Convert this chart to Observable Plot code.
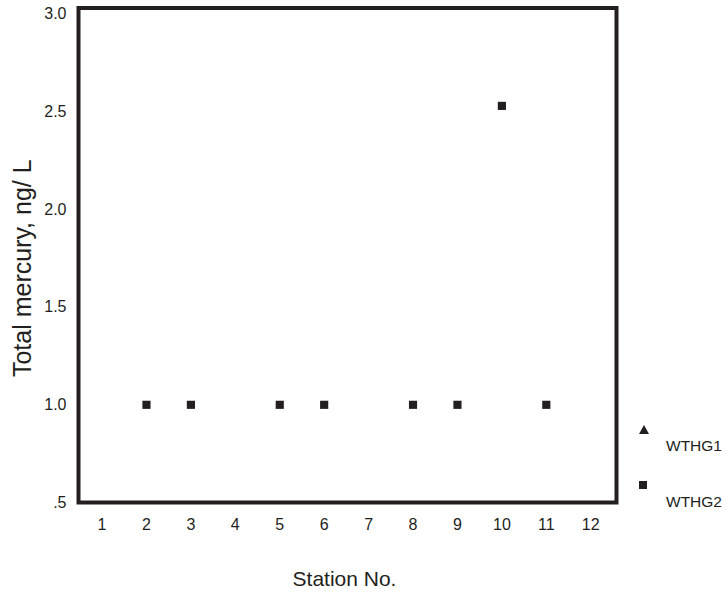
<!DOCTYPE html>
<html>
<head>
<meta charset="utf-8">
<script src="https://cdn.jsdelivr.net/npm/d3@7"></script>
<script src="https://cdn.jsdelivr.net/npm/@observablehq/plot@0.6"></script>
<style>
  html, body { margin: 0; padding: 0; background: #fff; }
  #wrap { position: relative; width: 728px; height: 596px; font-family: "Liberation Sans", Arial, Helvetica, sans-serif; color: #231f20; }
  #legend { position: absolute; left: 636px; top: 423px; font-size: 15.5px; }
  .item { position: relative; height: 56px; }
  .item svg { position: absolute; left: 0; top: 0; }
  .item span { position: absolute; left: 30px; top: 14px; }
</style>
</head>
<body>
<div id="wrap"></div>
<script>
// Data
const stations = [2, 3, 5, 6, 8, 9, 10, 11];
const wthg2 = [1.0, 1.0, 1.0, 1.0, 1.0, 1.0, 2.53, 1.0];
const wthg1Stations = [];
const wthg1 = [];
const xTicks = [1, 2, 3, 4, 5, 6, 7, 8, 9, 10, 11, 12];
const yTicks = [0.5, 1.0, 1.5, 2.0, 2.5, 3.0];
const yTickLabels = [".5", "1.0", "1.5", "2.0", "2.5", "3.0"];
const seriesNames = ["WTHG1", "WTHG2"];
const xTitle = "Station No.";
const yTitle = "Total mercury, ng/ L";

const ink = "#231f20";
const pts2 = stations.map((s, i) => ({station: s, value: wthg2[i]}));
const pts1 = wthg1Stations.map((s, i) => ({station: s, value: wthg1[i]}));

const chart = Plot.plot({
  width: 728,
  height: 596,
  marginTop: 7.5,
  marginBottom: 94,
  marginLeft: 78,
  marginRight: 112,
  style: {fontFamily: '"Liberation Sans", Arial, Helvetica, sans-serif', fontSize: "16px", color: ink, background: "white"},
  x: {domain: [0.47, 12.58]},
  y: {domain: [0.5, 3.031]},
  marks: [
    Plot.axisX({ticks: xTicks, tickSize: 0, tickPadding: 16, label: null, tickFormat: d => String(d), fill: ink}),
    Plot.axisY({ticks: yTicks, tickSize: 0, tickPadding: 12, label: null, tickFormat: d => yTickLabels[yTicks.indexOf(d)], fill: ink}),
    Plot.dot(pts1, {x: "station", y: "value", symbol: "triangle", r: 4.5, fill: ink, stroke: "none"}),
    Plot.dot(pts2, {x: "station", y: "value", symbol: "square", r: 4.6, fill: ink, stroke: "none"}),
    Plot.frame({stroke: ink, strokeWidth: 4}),
    Plot.text([xTitle], {frameAnchor: "bottom", dy: 83, dx: -3, fontSize: 21, fill: ink, text: d => d}),
    Plot.text([yTitle], {frameAnchor: "left", textAnchor: "middle", dx: -56, dy: 13, rotate: -90, fontSize: 25, fill: ink, text: d => d})
  ]
});

const wrap = document.getElementById("wrap");
wrap.appendChild(chart);

const legend = document.createElement("div");
legend.id = "legend";
const symbols = {
  WTHG1: '<svg width="16" height="16"><path d="M8,2 L13,11 L3,11 Z" fill="' + ink + '"/></svg>',
  WTHG2: '<svg width="16" height="16"><rect x="3" y="2" width="8" height="8" fill="' + ink + '"/></svg>'
};
seriesNames.forEach(name => {
  const it = document.createElement("div");
  it.className = "item";
  it.innerHTML = symbols[name] + "<span>" + name + "</span>";
  legend.appendChild(it);
});
wrap.appendChild(legend);
</script>
</body>
</html>
